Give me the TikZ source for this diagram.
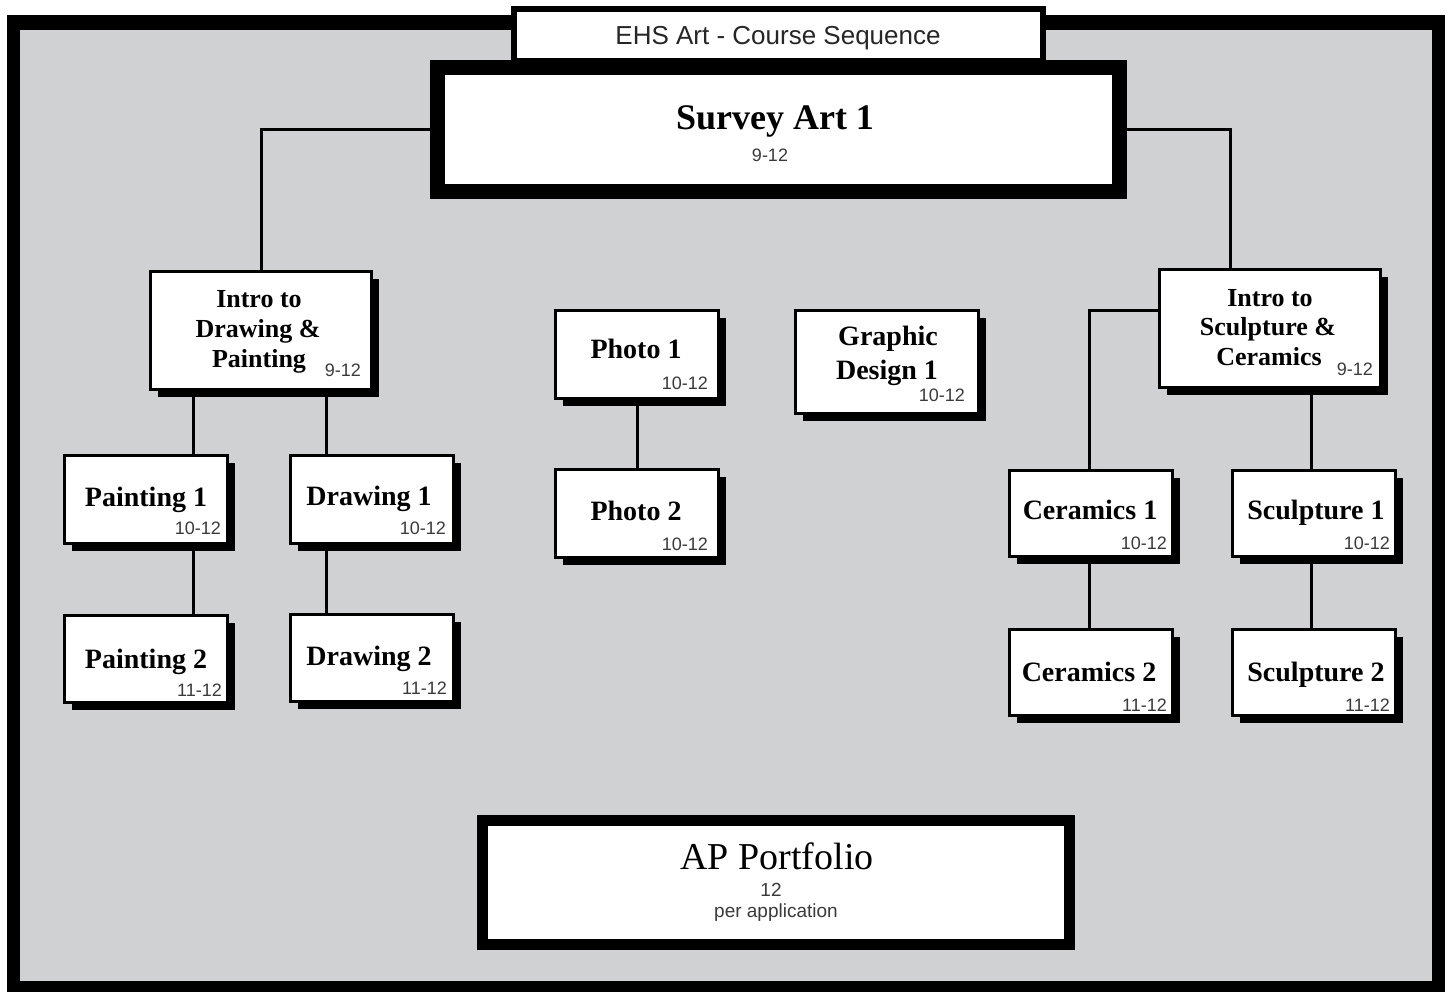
\documentclass[tikz,border=0pt]{standalone}
\usepackage{fontspec}
\setmainfont{Liberation Serif}
\newfontfamily\sansf{Liberation Sans}
\usetikzlibrary{shadows}
\definecolor{panelgray}{HTML}{D0D1D3}
\definecolor{gradegray}{HTML}{3A3A3A}
\tikzset{
  course/.style={draw=black, line width=3pt, fill=white, inner sep=0pt,
    drop shadow={shadow xshift=7.5pt, shadow yshift=-7.5pt, opacity=1, fill=black}},
  conn/.style={line width=3pt, draw=black},
  ctitle/.style={anchor=base, inner sep=0pt, font=\fontsize{28}{30}\selectfont\bfseries},
  ititle/.style={anchor=base, inner sep=0pt, font=\fontsize{26}{29}\selectfont\bfseries},
  grade/.style={anchor=base east, inner sep=0pt, text=gradegray, font=\sansf\fontsize{18}{20}\selectfont},
}
\newcommand\coursebox[5]{\node[course, minimum width={#4-#2-3}, minimum height={#5-#3-3}] (#1) at ({(#2+#4)/2},{(#3+#5)/2}) {};}
\begin{document}
\begin{tikzpicture}[x=1pt,y=-1pt]
\useasboundingbox (0,0) rectangle (1449,992);
\fill[white] (0,0) rectangle (1449,992);
\fill[black] (7,15) rectangle (1445,992);
\fill[panelgray] (20,30) rectangle (1432,981);

% title and main boxes
\node[draw=black, line width=6pt, fill=white, inner sep=0pt, minimum width=529, minimum height=52] (title) at (778.5,35) {};
\node[anchor=base, inner sep=0pt, text=black!85, font=\sansf\fontsize{26}{28}\selectfont] (titletext) at (778,45) {EHS Art - Course Sequence};

\node[draw=black, line width=15pt, fill=white, inner sep=0pt, minimum width=682, minimum height=124] (survey) at (778.5,129.5) {};
\node[anchor=base, inner sep=0pt, font=\fontsize{36}{40}\selectfont\bfseries] (surveytext) at (775,130) {Survey Art 1};
\node[anchor=base, inner sep=0pt, text=gradegray, font=\sansf\fontsize{18}{20}\selectfont] (surveygrade) at (770,162) {9-12};

\node[draw=black, line width=11pt, fill=white, inner sep=0pt, minimum width=587, minimum height=124] (ap) at (776,882.5) {};
\node[anchor=base, inner sep=0pt, font=\fontsize{38}{42}\selectfont] (aptext) at (777,869) {AP Portfolio};
\node[anchor=base, inner sep=0pt, text=gradegray, font=\sansf\fontsize{19}{21}\selectfont] (apgrade) at (771,896) {12};
\node[anchor=base, inner sep=0pt, text=gradegray, font=\sansf\fontsize{19}{21}\selectfont] (apnote) at (776,917) {per application};

% course boxes
\coursebox{idp}{149}{270}{373}{391}
\coursebox{pa1}{63}{454}{229}{545}
\coursebox{dr1}{289}{454}{455}{545}
\coursebox{pa2}{63}{614}{229}{704}
\coursebox{dr2}{289}{613}{455}{703}
\coursebox{ph1}{554}{309}{720}{400}
\coursebox{ph2}{554}{468}{720}{559}
\coursebox{gd}{794}{309}{980}{415}
\coursebox{isc}{1158}{268}{1382}{389}
\coursebox{ce1}{1008}{469}{1174}{558}
\coursebox{ce2}{1008}{628}{1174}{717}
\coursebox{sc1}{1231}{469}{1397}{558}
\coursebox{sc2}{1231}{628}{1397}{717}

% texts
\node[ititle] (idp1) at (259,308) {Intro to};
\node[ititle] (idp2) at (258,338) {Drawing \&};
\node[ititle] (idp3) at (259,367) {Painting};
\node[grade] (idpg) at (361,377) {9-12};

\node[ctitle] (pa1t) at (146,506) {Painting 1};
\node[grade] (pa1g) at (221,534) {10-12};
\node[ctitle] (dr1t) at (369,505) {Drawing 1};
\node[grade] (dr1g) at (446,534) {10-12};
\node[ctitle] (pa2t) at (146,668) {Painting 2};
\node[grade] (pa2g) at (222,696) {11-12};
\node[ctitle] (dr2t) at (369,665) {Drawing 2};
\node[grade] (dr2g) at (447,694) {11-12};

\node[ctitle] (ph1t) at (636,359) {Photo 1};
\node[grade] (ph1g) at (708,389) {10-12};
\node[ctitle] (ph2t) at (636,520) {Photo 2};
\node[grade] (ph2g) at (708,550) {10-12};

\node[ctitle] (gd1) at (888,346) {Graphic};
\node[ctitle] (gd2) at (887,379) {Design 1};
\node[grade] (gdg) at (965,402) {10-12};

\node[ititle] (isc1) at (1270,307) {Intro to};
\node[ititle] (isc2) at (1268,336) {Sculpture \&};
\node[ititle] (isc3) at (1269,366) {Ceramics};
\node[grade] (iscg) at (1373,375) {9-12};

\node[ctitle] (ce1t) at (1090,519) {Ceramics 1};
\node[grade] (ce1g) at (1167,549) {10-12};
\node[ctitle] (sc1t) at (1316,519) {Sculpture 1};
\node[grade] (sc1g) at (1390,549) {10-12};
\node[ctitle] (ce2t) at (1089,681) {Ceramics 2};
\node[grade] (ce2g) at (1167,711) {11-12};
\node[ctitle] (sc2t) at (1316,681) {Sculpture 2};
\node[grade] (sc2g) at (1390,711) {11-12};

% connectors
\coordinate (xa) at (193,0);
\coordinate (xb) at (326,0);
\coordinate (xr) at (1230,0);
\coordinate (xc) at (1089,311);
\coordinate (xd) at (1311,0);
\draw[conn] (survey.west) -| (idp.north);
\draw[conn] (survey.east) -| (xr |- isc.north);
\draw[conn] (idp.south -| xa) -- (pa1.north -| xa);
\draw[conn] (idp.south -| xb) -- (dr1.north -| xb);
\draw[conn] (pa1.south -| xa) -- (pa2.north -| xa);
\draw[conn] (dr1.south -| xb) -- (dr2.north -| xb);
\draw[conn] (ph1.south) -- (ph2.north);
\draw[conn] (isc.west |- xc) -| (ce1.north -| xc);
\draw[conn] (isc.south -| xd) -- (sc1.north -| xd);
\draw[conn] (ce1.south -| xc) -- (ce2.north -| xc);
\draw[conn] (sc1.south -| xd) -- (sc2.north -| xd);
\end{tikzpicture}
\end{document}
